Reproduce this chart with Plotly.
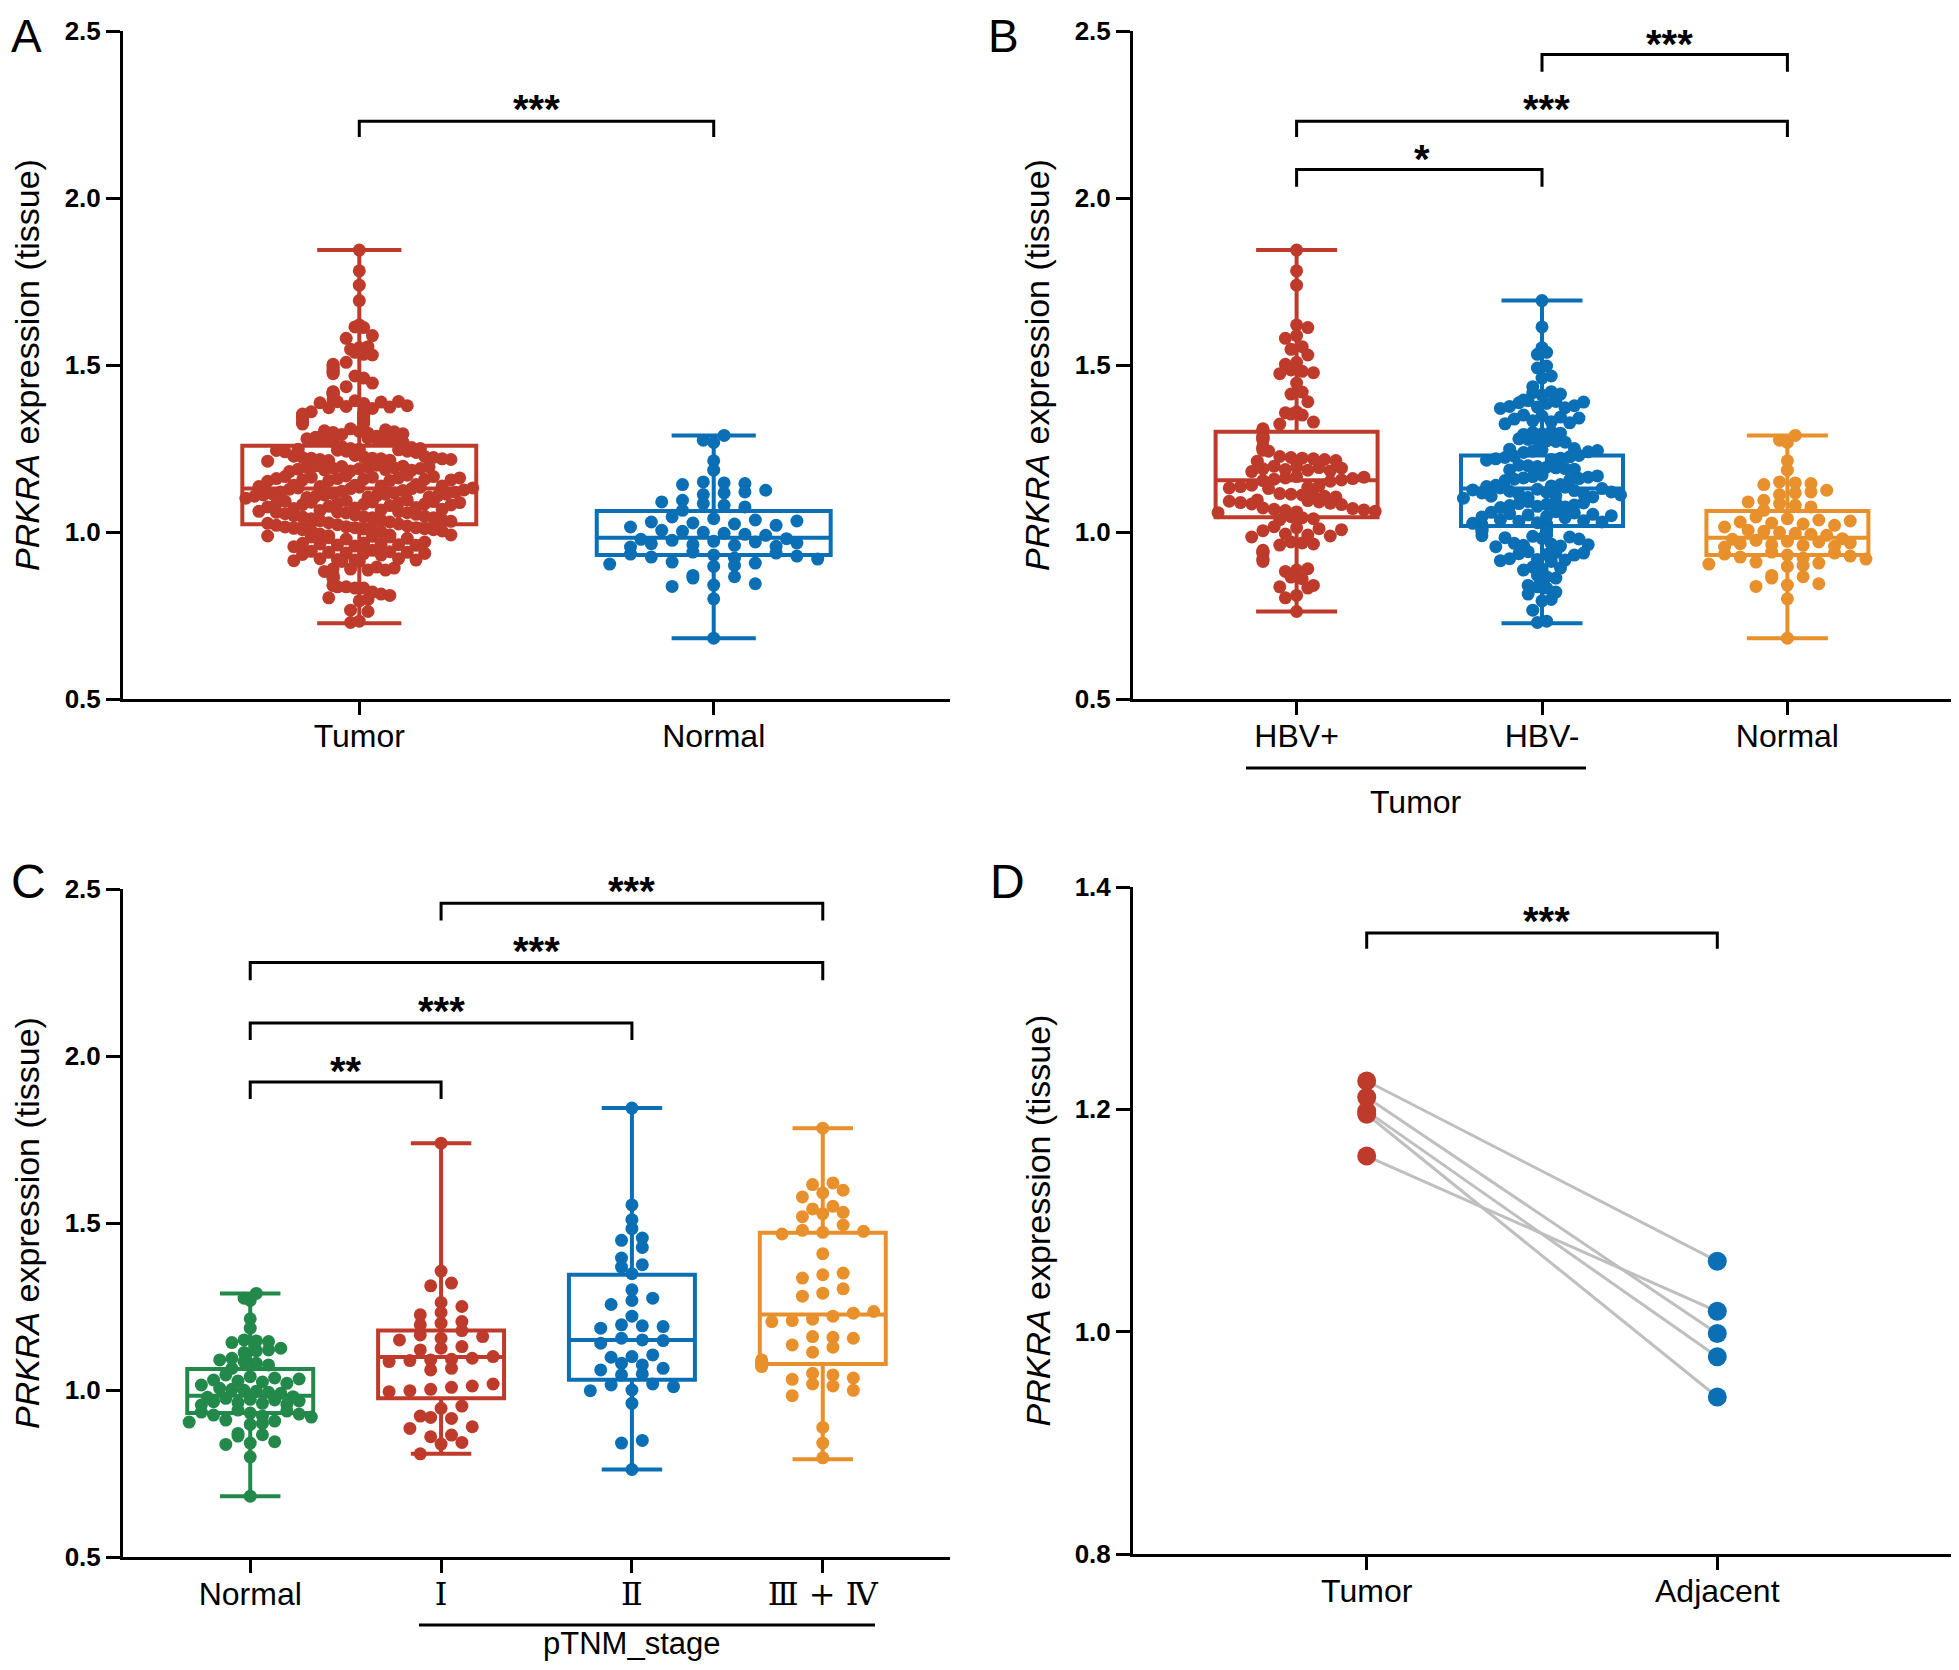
import plotly.graph_objects as go

# ---------------- data ----------------
NORMAL = [1.289, 1.275, 1.268, 1.213, 1.185,
          1.150, 1.147, 1.145, 1.142,
          1.125, 1.120, 1.117, 1.112,
          1.095, 1.090, 1.085, 1.080, 1.075, 1.065,
          1.045, 1.040, 1.036, 1.033, 1.030, 1.027, 1.024, 1.020, 1.015,
          1.005, 1.002, 0.999, 0.996, 0.993, 0.990,
          0.980, 0.978, 0.975, 0.972, 0.970, 0.967, 0.965, 0.962, 0.960, 0.957, 0.955,
          0.940, 0.937, 0.934, 0.931, 0.928, 0.925, 0.922, 0.919,
          0.910, 0.907, 0.904, 0.900, 0.897,
          0.870, 0.866, 0.862, 0.845, 0.841, 0.837, 0.800, 0.682]

HBV_POS = [1.844, 1.782, 1.739,
           1.620, 1.612, 1.588, 1.580, 1.555, 1.547, 1.530, 1.508, 1.502,
           1.485, 1.481, 1.477, 1.474, 1.446, 1.419, 1.413, 1.390,
           1.360, 1.357, 1.353, 1.350, 1.329, 1.323, 1.309, 1.306, 1.303, 1.301,
           1.287, 1.284, 1.281, 1.278, 1.275,
           1.256, 1.253, 1.250, 1.248, 1.245, 1.242,
           1.226, 1.223, 1.221, 1.219, 1.217, 1.214, 1.212,
           1.197, 1.195, 1.193, 1.191, 1.189, 1.187, 1.185, 1.183, 1.181,
           1.166, 1.164, 1.162, 1.160, 1.158, 1.156, 1.154, 1.152,
           1.140, 1.138, 1.136, 1.134, 1.132, 1.130,
           1.115, 1.113, 1.111, 1.109, 1.107, 1.105,
           1.096, 1.094, 1.092, 1.090, 1.088, 1.086, 1.084, 1.082,
           1.072, 1.070, 1.068, 1.066, 1.064, 1.062, 1.060, 1.058,
           1.046, 1.043, 1.040, 1.037,
           1.016, 1.013, 1.010, 1.007, 1.004,
           0.994, 0.991, 0.988, 0.985,
           0.970, 0.967, 0.964, 0.961,
           0.945, 0.942, 0.939, 0.936,
           0.920, 0.916, 0.912, 0.890, 0.886, 0.882,
           0.865, 0.860, 0.840, 0.836, 0.832, 0.810, 0.803, 0.762]

HBV_NEG = [1.693, 1.614, 1.552, 1.538, 1.532,
           1.497, 1.491, 1.467, 1.461, 1.435,
           1.420, 1.417, 1.413, 1.410,
           1.395, 1.393, 1.391, 1.389, 1.387, 1.385,
           1.378, 1.376, 1.374, 1.372, 1.370,
           1.350, 1.347, 1.344, 1.341, 1.338,
           1.333, 1.330, 1.327, 1.324,
           1.300, 1.298, 1.296, 1.294, 1.292,
           1.279, 1.277, 1.275, 1.273, 1.271, 1.269,
           1.250, 1.248, 1.246, 1.244, 1.242, 1.240, 1.238,
           1.229, 1.227, 1.225, 1.223, 1.221, 1.219, 1.217, 1.215,
           1.200, 1.198, 1.196, 1.194, 1.192, 1.190, 1.188, 1.186,
           1.170, 1.168, 1.166, 1.164, 1.162, 1.160, 1.158, 1.156, 1.154,
           1.142, 1.140, 1.138, 1.136, 1.134, 1.132, 1.130, 1.128, 1.126, 1.124, 1.122, 1.120,
           1.119, 1.117, 1.115, 1.113, 1.111, 1.109, 1.107, 1.105, 1.103, 1.101,
           1.091, 1.089, 1.087, 1.085, 1.083, 1.081, 1.079, 1.077, 1.075, 1.073,
           1.061, 1.059, 1.057, 1.055, 1.053, 1.051, 1.049, 1.047, 1.045, 1.043,
           1.036, 1.034, 1.032, 1.030, 1.028, 1.026, 1.024, 1.022, 1.020, 1.018,
           1.015, 1.013, 1.011, 1.009, 1.007, 1.005, 1.003, 1.001,
           0.991, 0.989, 0.987, 0.985, 0.983, 0.981, 0.979,
           0.966, 0.964, 0.962, 0.960, 0.958, 0.956,
           0.941, 0.939, 0.937, 0.935, 0.933, 0.931,
           0.920, 0.918, 0.916, 0.914, 0.912,
           0.895, 0.892, 0.889, 0.886,
           0.870, 0.866, 0.862,
           0.840, 0.836, 0.832,
           0.820, 0.814, 0.798, 0.794, 0.766, 0.733, 0.729]

TUMOR = HBV_POS + HBV_NEG

STAGE_I = [1.739, 1.356, 1.320, 1.312, 1.262, 1.250, 1.232, 1.225, 1.205, 1.200,
           1.195, 1.178, 1.165, 1.160, 1.155, 1.150, 1.130, 1.125, 1.120, 1.100,
           1.095, 1.092, 1.090, 1.088, 1.085, 1.065, 1.060, 1.018, 1.012, 1.008,
           1.002, 0.998, 0.995, 0.952, 0.945, 0.922, 0.918, 0.915, 0.890, 0.885,
           0.865, 0.860, 0.843, 0.838, 0.809]

STAGE_II = [1.844, 1.554, 1.510, 1.483, 1.455, 1.448, 1.427, 1.395, 1.375, 1.368,
            1.348, 1.300, 1.275, 1.268, 1.256, 1.221, 1.195, 1.192, 1.190, 1.185,
            1.155, 1.150, 1.148, 1.140, 1.105, 1.100, 1.098, 1.080, 1.075, 1.065,
            1.060, 1.048, 1.045, 1.018, 1.015, 1.010, 1.000, 0.998, 0.960, 0.849,
            0.841, 0.762]

STAGE_III_IV = [1.784, 1.620, 1.615, 1.598, 1.590, 1.578, 1.550, 1.542, 1.532, 1.528,
                1.519, 1.494, 1.478, 1.475, 1.472, 1.467, 1.408, 1.350, 1.345, 1.335,
                1.303, 1.290, 1.281, 1.235, 1.230, 1.221, 1.212, 1.208, 1.205, 1.160,
                1.158, 1.155, 1.135, 1.128, 1.113, 1.090, 1.086, 1.082, 1.078, 1.075,
                1.073, 1.070, 1.050, 1.045, 1.036, 1.032, 1.018, 1.012, 0.999, 0.983,
                0.888, 0.841, 0.797]

# box statistics: [lower whisker, q1, median, q3, upper whisker]
BOX_TUMOR = [0.727, 1.023, 1.130, 1.258, 1.844]
BOX_NORMAL = [0.682, 0.931, 0.983, 1.063, 1.289]
BOX_HBV_POS = [0.762, 1.044, 1.155, 1.300, 1.844]
BOX_HBV_NEG = [0.727, 1.018, 1.130, 1.229, 1.693]
BOX_I = [0.809, 0.975, 1.099, 1.178, 1.739]
BOX_II = [0.762, 1.031, 1.150, 1.345, 1.844]
BOX_III_IV = [0.793, 1.078, 1.226, 1.471, 1.784]

PAIR_TUMOR = [1.2255, 1.2108, 1.1984, 1.1956, 1.1580]
PAIR_ADJ = [1.0634, 0.9983, 0.9774, 0.9412, 1.0183]

CATS_A = ["Tumor", "Normal"]
CATS_B = ["HBV+", "HBV-", "Normal"]
CATS_C = ["Normal", "Ⅰ", "Ⅱ", "Ⅲ + Ⅳ"]
CATS_D = ["Tumor", "Adjacent"]

# significance: (panel, i, j, top, bottom, label_y, text)
SIG = [
    ("A", 0, 1, 2.230, 2.183, 2.290, "***"),
    ("B", 0, 1, 2.085, 2.034, 2.140, "*"),
    ("B", 0, 2, 2.230, 2.183, 2.290, "***"),
    ("B", 1, 2, 2.430, 2.378, 2.484, "***"),
    ("C", 0, 1, 1.922, 1.871, 1.979, "**"),
    ("C", 0, 2, 2.099, 2.048, 2.159, "***"),
    ("C", 0, 3, 2.280, 2.227, 2.338, "***"),
    ("C", 1, 3, 2.457, 2.406, 2.517, "***"),
    ("D", 0, 1, 1.3586, 1.3444, 1.3767, "***"),
]

RED = "#BE3B2B"
BLUE = "#0A6FB5"
ORANGE = "#E8902B"
GREEN = "#23894B"
GRAY = "#BFBFBF"

# page is 1959x1670; the html body adds an 8px margin, so the figure is 16px smaller
PAGE_W, PAGE_H = 1959, 1670
OFF = 8
W, H = PAGE_W - 2 * OFF, PAGE_H - 2 * OFF
FONT = "Liberation Sans, Arial, sans-serif"


def px(x):
    return (x - OFF) / W


def py(y):
    return 1 - (y - OFF) / H


# panel geometry (page pixels)
PANELS = {
    "A": dict(ax="x", ay="y", x0=123, x1=950, ytop=31, ybot=699, yr=(0.5, 2.5), n=2),
    "B": dict(ax="x2", ay="y2", x0=1133, x1=1959, ytop=31, ybot=699, yr=(0.5, 2.5), n=3),
    "C": dict(ax="x3", ay="y3", x0=123, x1=950, ytop=889, ybot=1557, yr=(0.5, 2.5), n=4),
    "D": dict(ax="x4", ay="y4", x0=1133, x1=1959, ytop=887, ybot=1554, yr=(0.8, 1.4), n=2),
}
for k, p in PANELS.items():
    span = p["n"] - 1 + 4 / 3
    p["ppx"] = (p["x1"] - p["x0"]) / span
    p["ppy"] = (p["ybot"] - p["ytop"]) / (p["yr"][1] - p["yr"][0])


def to_page(panel, xv, yv):
    p = PANELS[panel]
    return (p["x0"] + (xv + 2 / 3) * p["ppx"], p["ytop"] + (p["yr"][1] - yv) * p["ppy"])


def swarm(vals, center, ppx, ppy, d, maxw):
    """Row-based scatter-dot layout with one horizontal spacing per group."""
    order = sorted(range(len(vals)), key=lambda i: vals[i])
    bh = d * 0.95
    vmin = min(vals)
    bins = {}
    for i in order:
        b = int((vals[i] - vmin) * ppy // bh)
        bins.setdefault(b, []).append(i)
    nmax = max(len(v) for v in bins.values())
    s = 1.6 * d if nmax < 2 else min(1.6 * d, maxw / (nmax - 1))
    xs = [center] * len(vals)
    for b, idx in bins.items():
        n = len(idx)
        for rank, i in enumerate(idx):
            k = (rank * 7) % n if n > 1 else 0
            xs[i] = center + (k - (n - 1) / 2) * s / ppx
    return xs


fig = go.Figure()
BOXW = 0.66
MS = 13


def add_group(panel, pos, vals, stats, color, wwidth):
    p = PANELS[panel]
    fig.add_trace(go.Box(
        x=[pos], lowerfence=[stats[0]], q1=[stats[1]], median=[stats[2]],
        q3=[stats[3]], upperfence=[stats[4]], orientation="v",
        width=BOXW, whiskerwidth=wwidth, boxpoints=False,
        line=dict(color=color, width=4), fillcolor="rgba(0,0,0,0)",
        xaxis=p["ax"], yaxis=p["ay"], showlegend=False, hoverinfo="skip"))
    xs = swarm(vals, pos, p["ppx"], p["ppy"], MS, BOXW * p["ppx"] * 0.97)
    fig.add_trace(go.Scatter(
        x=xs, y=vals, mode="markers", cliponaxis=False,
        marker=dict(size=MS, color=color, line=dict(width=0)),
        xaxis=p["ax"], yaxis=p["ay"], showlegend=False, hoverinfo="skip"))


# Panel A
add_group("A", 0, TUMOR, BOX_TUMOR, RED, 0.36)
add_group("A", 1, NORMAL, BOX_NORMAL, BLUE, 0.36)
# Panel B
add_group("B", 0, HBV_POS, BOX_HBV_POS, RED, 0.5)
add_group("B", 1, HBV_NEG, BOX_HBV_NEG, BLUE, 0.5)
add_group("B", 2, NORMAL, BOX_NORMAL, ORANGE, 0.5)
# Panel C
add_group("C", 0, NORMAL, BOX_NORMAL, GREEN, 0.48)
add_group("C", 1, STAGE_I, BOX_I, RED, 0.48)
add_group("C", 2, STAGE_II, BOX_II, BLUE, 0.48)
add_group("C", 3, STAGE_III_IV, BOX_III_IV, ORANGE, 0.48)

# Panel D paired lines
for t, a in zip(PAIR_TUMOR, PAIR_ADJ):
    fig.add_trace(go.Scatter(x=[0, 1], y=[t, a], mode="lines",
                             line=dict(color=GRAY, width=3),
                             xaxis="x4", yaxis="y4", showlegend=False, hoverinfo="skip"))
fig.add_trace(go.Scatter(x=[0] * len(PAIR_TUMOR), y=PAIR_TUMOR, mode="markers",
                         marker=dict(size=19, color=RED), cliponaxis=False,
                         xaxis="x4", yaxis="y4", showlegend=False, hoverinfo="skip"))
fig.add_trace(go.Scatter(x=[1] * len(PAIR_ADJ), y=PAIR_ADJ, mode="markers",
                         marker=dict(size=19, color=BLUE), cliponaxis=False,
                         xaxis="x4", yaxis="y4", showlegend=False, hoverinfo="skip"))

# axes
cats = {"A": CATS_A, "B": CATS_B, "C": CATS_C, "D": CATS_D}
layout_axes = {}
for k, p in PANELS.items():
    xname = "xaxis" if p["ax"] == "x" else "xaxis" + p["ax"][1:]
    yname = "yaxis" if p["ay"] == "y" else "yaxis" + p["ay"][1:]
    ticktext = list(cats[k])
    if k == "C":
        ticktext = [ticktext[0]] + ['<span style="font-family:DejaVu Serif">%s</span>' % t
                                    for t in ticktext[1:]]
    layout_axes[xname] = dict(
        domain=[px(p["x0"]), min(1.0, px(p["x1"]))], anchor=p["ay"], automargin=False,
        range=[-2 / 3, p["n"] - 1 + 2 / 3], tickvals=list(range(p["n"])),
        ticktext=ticktext, showgrid=False, zeroline=False, showline=True,
        linecolor="black", linewidth=3, ticks="outside", ticklen=13, tickwidth=3,
        tickcolor="black", ticklabelstandoff=-6,
        tickfont=dict(family=FONT, size=32, color="black"))
    if k == "D":
        yt = [0.8, 1.0, 1.2, 1.4]
    else:
        yt = [0.5, 1.0, 1.5, 2.0, 2.5]
    layout_axes[yname] = dict(
        domain=[py(p["ybot"]), py(p["ytop"])], anchor=p["ax"], automargin=False,
        range=list(p["yr"]), tickvals=yt, ticktext=["%.1f" % v for v in yt],
        showgrid=False, zeroline=False, showline=True, linecolor="black",
        linewidth=3, ticks="outside", ticklen=14, tickwidth=3, tickcolor="black",
        tickfont=dict(family=FONT, size=26, color="black", weight="bold"))

shapes = []
annotations = []
for panel, i, j, top, bot, ly, txt in SIG:
    p = PANELS[panel]
    shapes.append(dict(type="path", xref=p["ax"], yref=p["ay"],
                       path="M %f,%f L %f,%f L %f,%f L %f,%f" % (i, bot, i, top, j, top, j, bot),
                       line=dict(color="black", width=3)))
    sx, sy = to_page(panel, (i + j) / 2, ly)
    annotations.append(dict(xref="paper", yref="paper", x=px(sx), y=py(sy), text=txt,
                            showarrow=False, xanchor="center", yanchor="middle", yshift=-8,
                            font=dict(family=FONT, size=40, color="black", weight="bold")))

# panel letters (kept inside the figure area)
for letter, lx in {"A": 26, "B": 1003}.items():
    annotations.append(dict(xref="paper", yref="paper", x=px(lx), y=1.0, text=letter,
                            showarrow=False, xanchor="center", yanchor="top",
                            font=dict(family=FONT, size=46, color="black")))
for letter, (lx, ly) in {"C": (28, 881), "D": (1007, 881)}.items():
    annotations.append(dict(xref="paper", yref="paper", x=px(lx), y=py(ly), text=letter,
                            showarrow=False, xanchor="center", yanchor="middle",
                            font=dict(family=FONT, size=48, color="black")))

# y axis titles
for k, tx in {"A": 27, "B": 1037, "C": 27, "D": 1037}.items():
    p = PANELS[k]
    annotations.append(dict(xref="paper", yref="paper", x=px(tx), y=py((p["ytop"] + p["ybot"]) / 2),
                            text="<i>PRKRA</i> expression (tissue)", textangle=-90,
                            showarrow=False, xanchor="center", yanchor="middle",
                            font=dict(family=FONT, size=34, color="black")))

# group lines and labels
shapes.append(dict(type="line", xref="paper", yref="paper", x0=px(1246), x1=px(1586),
                   y0=py(768), y1=py(768), line=dict(color="black", width=3)))
annotations.append(dict(xref="paper", yref="paper", x=px(1416), y=py(802), text="Tumor",
                        showarrow=False, xanchor="center", yanchor="middle",
                        font=dict(family=FONT, size=32, color="black")))
shapes.append(dict(type="line", xref="paper", yref="paper", x0=px(419), x1=px(875),
                   y0=py(1625), y1=py(1625), line=dict(color="black", width=3)))
annotations.append(dict(xref="paper", yref="paper", x=px(631), y=py(1643), text="pTNM_stage",
                        showarrow=False, xanchor="center", yanchor="middle",
                        font=dict(family=FONT, size=31, color="black")))

fig.update_layout(width=W, height=H, margin=dict(l=0, r=0, t=0, b=0, autoexpand=False),
                  paper_bgcolor="white", plot_bgcolor="white", showlegend=False,
                  boxmode="overlay", shapes=shapes, annotations=annotations, **layout_axes)

fig.write_html("out.html")
